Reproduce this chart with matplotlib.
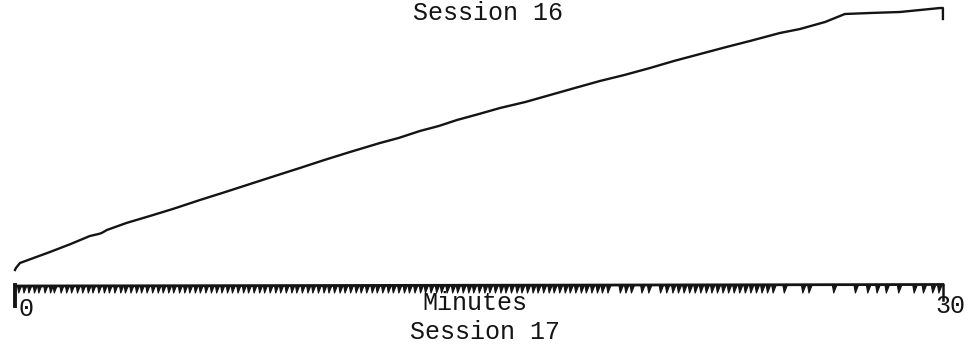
import matplotlib
matplotlib.use("Agg")
import matplotlib.pyplot as plt
from matplotlib.collections import PolyCollection

# Session 16 cumulative record: time (min) and pen height (response steps)
s16_minutes = [0.00, 0.03, 0.16, 0.60, 1.13, 1.80, 2.42, 2.70, 2.80, 2.97, 3.60, 4.36,
               5.10, 5.98, 6.80, 7.60, 8.40, 9.21, 10.00, 10.83, 11.80, 12.40, 13.09,
               13.70, 14.29, 15.00, 15.68, 16.50, 17.30, 18.10, 18.91, 19.70, 20.53,
               21.30, 22.15, 23.00, 23.76, 24.73, 25.38, 26.19, 26.83, 27.64, 28.61,
               29.26, 29.91, 30.00, 30.00]
s16_height = [90, 92, 97, 102, 108, 116, 124, 126, 127, 130, 137, 144,
              151, 160, 168, 176, 184, 192, 200, 208, 217, 222, 229,
              234, 240, 246, 252, 258, 265, 272, 279, 285, 292,
              299, 306, 313, 319, 327, 331, 338, 346, 347, 348,
              350, 352, 352, 341]

# Session 17 event record: baseline level and response pip times (min)
s17_base = 74
s17_pip_depth = 7
s17_pips = [0.15, 0.32, 0.48, 0.66, 0.80, 1.00, 1.18, 1.30, 1.52, 1.70, 1.86, 2.05,
            2.22, 2.40, 2.55, 2.74, 2.92, 3.08, 3.26, 3.45, 3.60, 3.78, 3.96, 4.12,
            4.30, 4.48, 4.66, 4.82, 5.00, 5.16, 5.35, 5.52, 5.68, 5.86, 6.02, 6.20,
            6.38, 6.55, 6.72, 6.90, 7.06, 7.24, 7.42, 7.58, 7.76, 7.94, 8.10, 8.28,
            8.46, 8.62, 8.80, 8.98, 9.14, 9.32, 9.50, 9.66, 9.84, 10.02, 10.18, 10.36,
            10.54, 10.70, 10.88, 11.06, 11.22, 11.40, 11.58, 11.74, 11.92, 12.10,
            12.26, 12.44, 12.62, 12.78, 12.96, 13.14, 13.30, 13.48, 13.66, 13.82,
            14.00, 14.18, 14.34, 14.52, 14.70, 14.86, 15.04, 15.22, 15.38, 15.56,
            15.74, 15.90, 16.08, 16.26, 16.42, 16.60, 16.78, 16.94, 17.12, 17.30,
            17.46, 17.64, 17.82, 17.98, 18.16, 18.34, 18.50, 18.68, 18.86, 19.02,
            19.20, 19.60, 19.78, 19.96, 20.30, 20.52, 20.90, 21.10, 21.30, 21.48,
            21.66, 21.84, 22.02, 22.20, 22.38, 22.56, 22.74, 22.92, 23.10, 23.28,
            23.46, 23.64, 23.82, 24.00, 24.18, 24.36, 24.54, 24.90, 25.50, 25.70,
            26.50, 27.20, 27.60, 27.90, 28.20, 28.60, 29.10, 29.40, 29.70, 29.90]

axis_start, axis_end = 0, 30
axis_labels = ["0", "30"]

ink = "#141414"
font = ["Liberation Mono", "DejaVu Sans Mono"]

fig = plt.figure(figsize=(9.72, 3.6), dpi=100)
ax = fig.add_axes([0, 0, 1, 1])
ax.set_xlim(-0.485, 30.94)
ax.set_ylim(0, 360)
ax.axis("off")

# Session 16 curve
ax.plot(s16_minutes, s16_height, color=ink, lw=1.7, solid_joinstyle="round")

# Session 17 baseline with end markers
ax.plot([axis_start, axis_end], [s17_base, s17_base + 1.5], color=ink, lw=2.0)
ax.plot([axis_start, axis_start], [s17_base + 1, s17_base - 20], color=ink, lw=2.8)
ax.plot([axis_end, axis_end], [s17_base + 1.5, s17_base - 14], color=ink, lw=1.8)

# response pips hanging from the baseline: tapered teeth
teeth = [[(t - 0.07, s17_base), (t + 0.06, s17_base),
          (t - 0.03, s17_base - s17_pip_depth)] for t in s17_pips]
ax.add_collection(PolyCollection(teeth, facecolors=ink, edgecolors=ink,
                                 linewidths=0.8))

# labels
ax.text(15.29, 347, "Session 16", ha="center", va="center", fontsize=18,
        family=font, color=ink)
ax.text(14.87, 57, "Minutes", ha="center", va="center", fontsize=18,
        family=font, color=ink)
ax.text(15.2, 28, "Session 17", ha="center", va="center", fontsize=18,
        family=font, color=ink)
ax.text(axis_start + 0.36, 51, axis_labels[0], ha="center", va="center",
        fontsize=18, family=font, color=ink)
ax.text(axis_end + 0.23, 54, axis_labels[1], ha="center", va="center",
        fontsize=18, family=font, color=ink)

fig.savefig("out.png", dpi=100, facecolor="white")
